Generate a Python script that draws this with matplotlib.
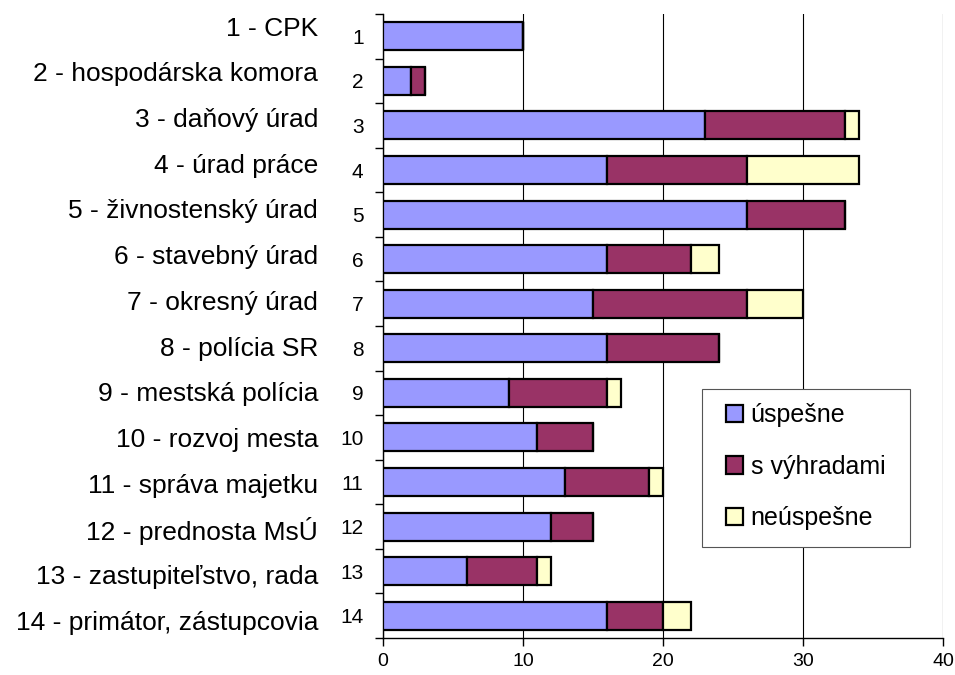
import matplotlib
matplotlib.use("Agg")
import matplotlib.pyplot as plt
from matplotlib.patches import Patch, Rectangle

plt.rcParams['font.family'] = ['Liberation Sans', 'DejaVu Sans']

# data
labels = ['1 - CPK', '2 - hospodárska komora', '3 - daňový úrad', '4 - úrad práce',
          '5 - živnostenský úrad', '6 - stavebný úrad', '7 - okresný úrad',
          '8 - polícia SR', '9 - mestská polícia', '10 - rozvoj mesta',
          '11 - správa majetku', '12 - prednosta MsÚ', '13 - zastupiteľstvo, rada',
          '14 - primátor, zástupcovia']
uspesne = [10, 2, 23, 16, 26, 16, 15, 16, 9, 11, 13, 12, 6, 16]
s_vyhradami = [0, 1, 10, 10, 7, 6, 11, 8, 7, 4, 6, 3, 5, 4]
neuspesne = [0, 0, 1, 8, 0, 2, 4, 0, 1, 0, 1, 0, 1, 2]
series_names = ['úspešne', 's výhradami', 'neúspešne']
colors = ['#9999FF', '#993366', '#FFFFCC']

fig = plt.figure(figsize=(9.55, 6.75), dpi=100)
ax = fig.add_axes([383 / 955, 1 - 638 / 675, 560 / 955, 624 / 675])

pos = list(range(1, len(labels) + 1))
left = [0] * len(pos)
for vals, col in zip([uspesne, s_vyhradami, neuspesne], colors):
    ax.barh(pos, vals, left=left, height=0.63, color=col, edgecolor='black',
            linewidth=1.6, zorder=3)
    left = [a + b for a, b in zip(left, vals)]

ax.set_xlim(0, 40)
ax.set_ylim(len(labels) + 0.5, 0.5)

# x axis
ax.set_xticks([0, 10, 20, 30, 40])
ax.tick_params(axis='x', direction='out', length=6, width=1, labelsize=14, pad=5)
ax.grid(axis='x', color='black', linewidth=0.8, zorder=0)

# y axis: tick marks between categories, numbers at centres
ax.set_yticks([p + 0.5 for p in [0] + pos])
ax.set_yticklabels([])
ax.tick_params(axis='y', which='major', direction='out', length=6, width=1)
ax.set_yticks(pos, minor=True)
ax.set_yticklabels([str(p) for p in pos], minor=True)
ax.tick_params(axis='y', which='minor', length=0, labelsize=15, pad=14)

for side in ['top', 'right']:
    ax.spines[side].set_visible(False)
for side in ['left', 'bottom']:
    ax.spines[side].set_linewidth(1)

# long category names left of the numbers (their column is spaced a bit wider than the bars)
for p, lab in zip(pos, labels):
    y = 1 - 0.17 + (p - 1) * 1.025
    ax.text(-0.116, y, lab, transform=ax.get_yaxis_transform(),
            ha='right', va='center', fontsize=19)

# legend box drawn separately so the padding can differ horizontally / vertically
ax.add_patch(Rectangle((0.57, 0.146), 0.371, 0.253, transform=ax.transAxes,
                       facecolor='white', edgecolor='#555555', linewidth=0.8,
                       zorder=4))
handles = [Patch(facecolor=c, edgecolor='black', linewidth=1.6) for c in colors]
leg = ax.legend(handles, series_names, loc='upper left', bbox_to_anchor=(0.612, 0.376),
                fontsize=18, frameon=False, handlelength=0.7,
                handleheight=0.7, handletextpad=0.3, labelspacing=1.1,
                borderpad=0, borderaxespad=0)
leg.set_zorder(5)

fig.savefig('out.png', dpi=100)
